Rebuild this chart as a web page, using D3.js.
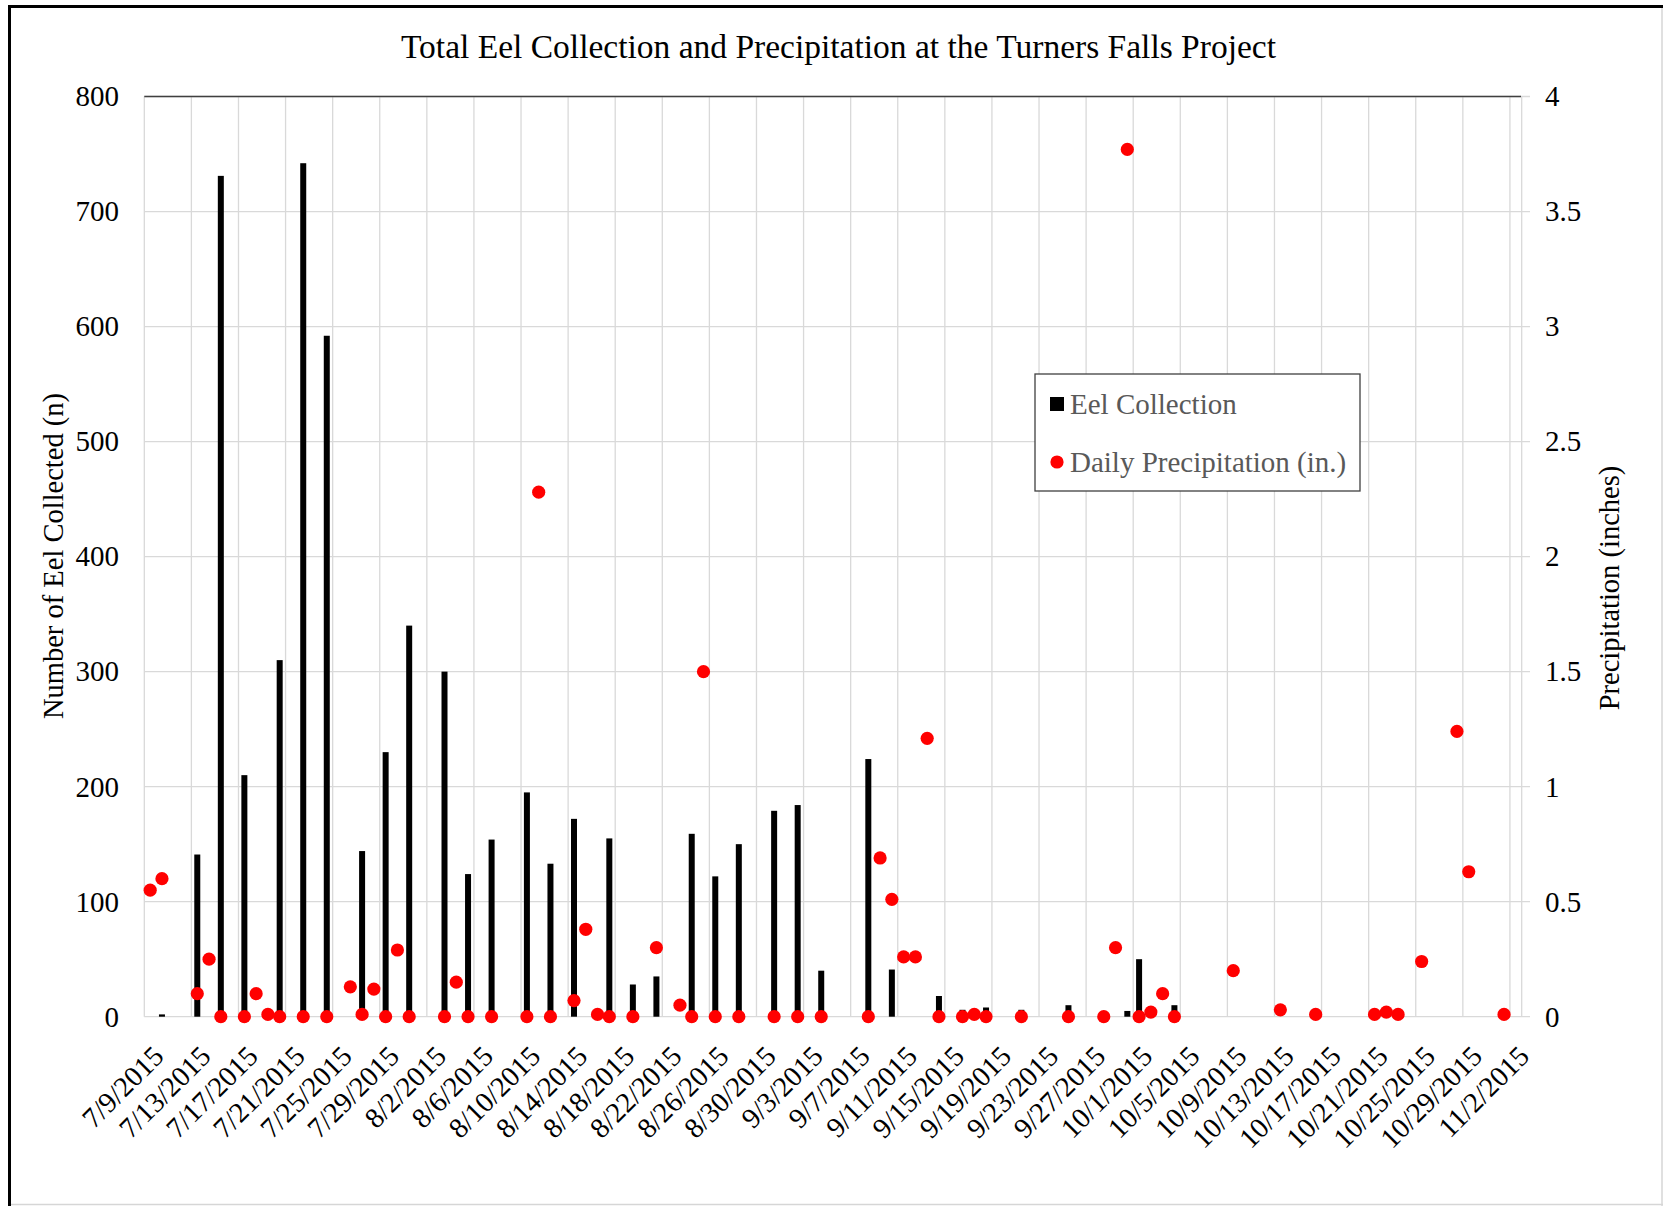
<!DOCTYPE html>
<html>
<head>
<meta charset="utf-8">
<script src="https://cdn.jsdelivr.net/npm/d3@7"></script>
<style>
    body { margin: 0; background: #fff; }
    svg text { font-family: "Liberation Serif", "Times New Roman", serif; }
</style>
</head>
<body>
<div id="chart"></div>
<script>
//Eel collection counts by date
var eelDates = ['7/10/2015', '7/13/2015', '7/15/2015', '7/17/2015', '7/20/2015', '7/22/2015', '7/24/2015',
    '7/27/2015', '7/29/2015', '7/31/2015', '8/3/2015', '8/5/2015', '8/7/2015', '8/10/2015', '8/12/2015',
    '8/14/2015', '8/17/2015', '8/19/2015', '8/21/2015', '8/24/2015', '8/26/2015', '8/28/2015', '8/31/2015',
    '9/2/2015', '9/4/2015', '9/8/2015', '9/10/2015', '9/14/2015', '9/16/2015', '9/18/2015', '9/21/2015',
    '9/25/2015', '9/30/2015', '10/1/2015', '10/4/2015'];
var eelCounts = [2, 141, 731, 210, 310, 742, 592,
    144, 230, 340, 300, 124, 154, 195, 133,
    172, 155, 28, 35, 159, 122, 150, 179,
    184, 40, 224, 41, 18, 6, 8, 6,
    10, 5, 50, 10];

//Daily precipitation (inches) by date
var precipDates = ['7/9/2015', '7/10/2015', '7/13/2015', '7/14/2015', '7/15/2015', '7/17/2015', '7/18/2015',
    '7/19/2015', '7/20/2015', '7/22/2015', '7/24/2015', '7/26/2015', '7/27/2015', '7/28/2015', '7/29/2015',
    '7/30/2015', '7/31/2015', '8/3/2015', '8/4/2015', '8/5/2015', '8/7/2015', '8/10/2015', '8/11/2015',
    '8/12/2015', '8/14/2015', '8/15/2015', '8/16/2015', '8/17/2015', '8/19/2015', '8/21/2015', '8/23/2015',
    '8/24/2015', '8/25/2015', '8/26/2015', '8/28/2015', '8/31/2015', '9/2/2015', '9/4/2015', '9/8/2015',
    '9/9/2015', '9/10/2015', '9/11/2015', '9/12/2015', '9/13/2015', '9/14/2015', '9/16/2015', '9/17/2015',
    '9/18/2015', '9/21/2015', '9/25/2015', '9/28/2015', '9/29/2015', '9/30/2015', '10/1/2015', '10/2/2015',
    '10/3/2015', '10/4/2015', '10/9/2015', '10/13/2015', '10/16/2015', '10/21/2015', '10/22/2015', '10/23/2015',
    '10/25/2015', '10/28/2015', '10/29/2015', '11/1/2015'];
var precipValues = [0.55, 0.60, 0.10, 0.25, 0, 0, 0.10,
    0.01, 0, 0, 0, 0.13, 0.01, 0.12, 0,
    0.29, 0, 0, 0.15, 0, 0, 0, 2.28,
    0, 0.07, 0.38, 0.01, 0, 0, 0.30, 0.05,
    0, 1.50, 0, 0, 0, 0, 0, 0,
    0.69, 0.51, 0.26, 0.26, 1.21, 0, 0, 0.01,
    0, 0, 0, 0, 0.30, 3.77, 0, 0.02,
    0.10, 0, 0.20, 0.03, 0.01, 0.01, 0.02, 0.01,
    0.24, 1.24, 0.63, 0.01];

//Axis tick labels
var dateTicks = ['7/9/2015', '7/13/2015', '7/17/2015', '7/21/2015', '7/25/2015', '7/29/2015', '8/2/2015',
    '8/6/2015', '8/10/2015', '8/14/2015', '8/18/2015', '8/22/2015', '8/26/2015', '8/30/2015', '9/3/2015',
    '9/7/2015', '9/11/2015', '9/15/2015', '9/19/2015', '9/23/2015', '9/27/2015', '10/1/2015', '10/5/2015',
    '10/9/2015', '10/13/2015', '10/17/2015', '10/21/2015', '10/25/2015', '10/29/2015', '11/2/2015'];
var eelTicks = [0, 100, 200, 300, 400, 500, 600, 700, 800];
var precipTicks = [0, 0.5, 1, 1.5, 2, 2.5, 3, 3.5, 4];
var axisStart = '7/9/2015';
var axisEnd = '11/3/2015';

var width = 1663;
var height = 1206;
var margin = { left: 144.3, top: 96.5, right: 142, bottom: 189.3 };
var parseDate = d3.utcParse('%m/%d/%Y');
var fmtTick = d3.format('');

var plotRight = width - margin.right;
var plotBottom = height - margin.bottom;

var svg = d3.select('#chart').append('svg')
    .attr('width', width)
    .attr('height', height);

//Scales
var x = d3.scaleUtc()
    .domain([parseDate(axisStart), parseDate(axisEnd)])
    .range([margin.left, plotRight + 0.7]);
var yEel = d3.scaleLinear().domain([0, 800]).range([plotBottom, margin.top]);
var yPrecip = d3.scaleLinear().domain([0, 4]).range([plotBottom, margin.top]);

//Centre of a day's slot
var xMid = function(s) {
    return x(d3.utcHour.offset(parseDate(s), 12));
};

//Outer frame
svg.append('line').attr('x1', 1662).attr('x2', 1662).attr('y1', 5).attr('y2', 1206)
    .attr('stroke', '#d6d6d6').attr('stroke-width', 1.5);
svg.append('line').attr('x1', 8).attr('x2', 1663).attr('y1', 1204.5).attr('y2', 1204.5)
    .attr('stroke', '#d6d6d6').attr('stroke-width', 1.5);
svg.append('line').attr('x1', 8).attr('x2', 1663).attr('y1', 6.5).attr('y2', 6.5)
    .attr('stroke', '#000').attr('stroke-width', 3);
svg.append('line').attr('x1', 9.5).attr('x2', 9.5).attr('y1', 5).attr('y2', 1206)
    .attr('stroke', '#000').attr('stroke-width', 3);

//Gridlines
var grid = svg.append('g').attr('stroke', '#d9d9d9').attr('stroke-width', 1.3);
grid.selectAll('.vgrid')
    .data(dateTicks.concat([axisEnd]))
    .enter().append('line')
    .attr('x1', function(d) { return x(parseDate(d)); })
    .attr('x2', function(d) { return x(parseDate(d)); })
    .attr('y1', margin.top)
    .attr('y2', plotBottom);
grid.selectAll('.hgrid')
    .data(eelTicks)
    .enter().append('line')
    .attr('x1', margin.left)
    .attr('x2', plotRight + 9)
    .attr('y1', function(d) { return yEel(d); })
    .attr('y2', function(d) { return yEel(d); });

//Dark top edge
svg.append('line')
    .attr('x1', margin.left).attr('x2', plotRight)
    .attr('y1', yEel(800)).attr('y2', yEel(800))
    .attr('stroke', '#404040').attr('stroke-width', 1.5);

//Bars
svg.append('g').selectAll('rect')
    .data(eelDates)
    .enter().append('rect')
    .attr('x', function(d) { return xMid(d) - 3; })
    .attr('width', 6)
    .attr('y', function(d, i) { return yEel(eelCounts[i]); })
    .attr('height', function(d, i) { return plotBottom - yEel(eelCounts[i]); })
    .attr('fill', '#000');

//Precipitation dots
svg.append('g').selectAll('circle')
    .data(precipDates)
    .enter().append('circle')
    .attr('cx', function(d) { return xMid(d); })
    .attr('cy', function(d, i) { return yPrecip(precipValues[i]); })
    .attr('r', 6.6)
    .attr('fill', '#ff0000');

//Left axis labels
svg.append('g').selectAll('text')
    .data(eelTicks)
    .enter().append('text')
    .attr('x', 119)
    .attr('y', function(d) { return yEel(d); })
    .attr('dy', '0.34em')
    .attr('text-anchor', 'end')
    .attr('font-size', 29)
    .attr('fill', '#000')
    .text(fmtTick);

//Right axis labels
svg.append('g').selectAll('text')
    .data(precipTicks)
    .enter().append('text')
    .attr('x', 1545)
    .attr('y', function(d) { return yPrecip(d); })
    .attr('dy', '0.34em')
    .attr('font-size', 29)
    .attr('fill', '#000')
    .text(fmtTick);

//Date labels
svg.append('g').selectAll('text')
    .data(dateTicks)
    .enter().append('text')
    .attr('transform', function(d) {
        return 'translate(' + (x(parseDate(d)) + 21) + ',' + 1058 + ') rotate(-45)';
    })
    .attr('text-anchor', 'end')
    .attr('font-size', 28.5)
    .attr('fill', '#000')
    .text(function(d) { return d; });

//Title and axis titles
svg.append('text')
    .attr('x', 838.5).attr('y', 58)
    .attr('text-anchor', 'middle')
    .attr('font-size', 33.5)
    .attr('fill', '#000')
    .text('Total Eel Collection  and Precipitation  at the Turners Falls Project');

svg.append('text')
    .attr('transform', 'translate(63,556) rotate(-90)')
    .attr('text-anchor', 'middle')
    .attr('font-size', 28.5)
    .attr('fill', '#000')
    .text('Number of Eel Collected (n)');

svg.append('text')
    .attr('transform', 'translate(1619,588) rotate(-90)')
    .attr('text-anchor', 'middle')
    .attr('font-size', 28.5)
    .attr('fill', '#000')
    .text('Precipitation (inches)');

//Legend
var legend = svg.append('g');
legend.append('rect')
    .attr('x', 1035).attr('y', 374)
    .attr('width', 325).attr('height', 117)
    .attr('fill', '#fff')
    .attr('stroke', '#404040')
    .attr('stroke-width', 1.3);
legend.append('rect')
    .attr('x', 1050).attr('y', 397)
    .attr('width', 14).attr('height', 14)
    .attr('fill', '#000');
legend.append('circle')
    .attr('cx', 1057).attr('cy', 462)
    .attr('r', 6.6)
    .attr('fill', '#ff0000');
legend.append('text')
    .attr('x', 1070).attr('y', 404).attr('dy', '0.34em')
    .attr('font-size', 29)
    .attr('fill', '#595959')
    .text('Eel Collection');
legend.append('text')
    .attr('x', 1070).attr('y', 462).attr('dy', '0.34em')
    .attr('font-size', 29)
    .attr('fill', '#595959')
    .text('Daily Precipitation (in.)');
</script>
</body>
</html>
